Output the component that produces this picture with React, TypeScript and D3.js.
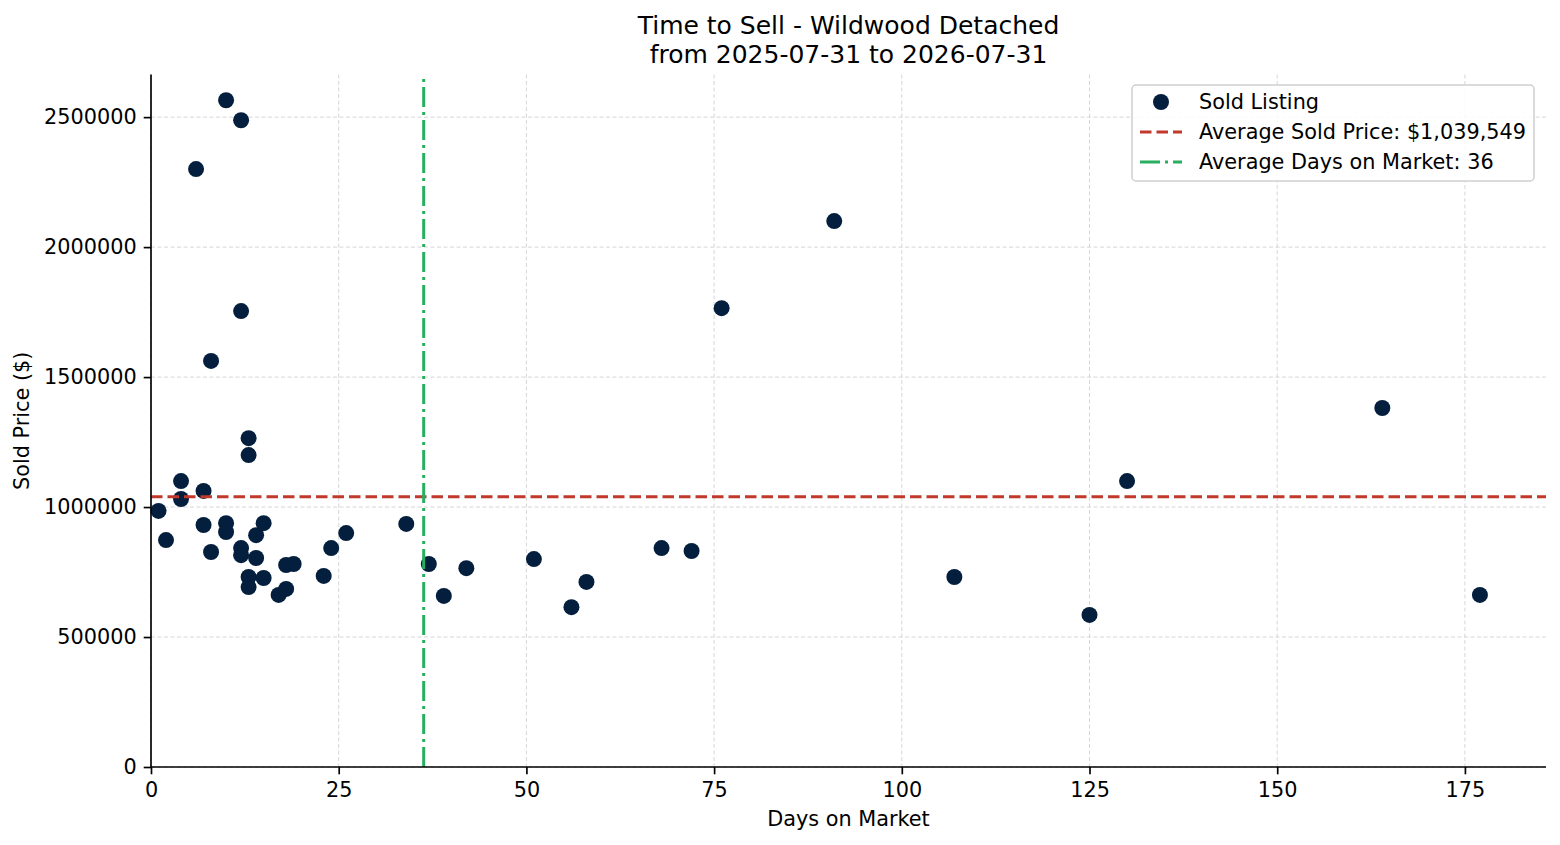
import React, { useEffect, useRef } from "react";
import * as d3 from "d3";

// sold listings: days on market / sold price
const daysOnMarket = [
  1, 2, 4, 4, 6, 7, 7, 8, 8, 10, 10, 10, 12, 12, 12, 12, 13, 13, 13, 13, 14, 14, 15, 15,
  17, 18, 18, 19, 23, 24, 26, 34, 37, 39, 42, 51, 56, 58, 68, 72, 76, 91, 107, 125, 130,
  164, 177,
];
const soldPrices = [
  985000, 873000, 1100000, 1031000, 2300000, 1062000, 931000, 1562000, 827000, 2565000,
  938000, 904000, 2488000, 1754000, 842000, 815000, 1265000, 1200000, 731000, 692000,
  892000, 804000, 938000, 727000, 662000, 777000, 685000, 781000, 735000, 842000, 900000,
  935000, 781000, 658000, 765000, 800000, 615000, 712000, 842000, 831000, 1765000,
  2100000, 731000, 585000, 1100000, 1381000, 662000,
];
const avgPrice = 1039549;
const avgDays = 36.32;

const xTicks = [0, 25, 50, 75, 100, 125, 150, 175];
const yTicks = [0, 500000, 1000000, 1500000, 2000000, 2500000];

const titleLines = ["Time to Sell - Wildwood Detached", "from 2025-07-31 to 2026-07-31"];

const W = 1560;
const H = 845;
const FONT = "'DejaVu Sans', sans-serif";

const ScatterChart: React.FC = () => {
  const ref = useRef<SVGSVGElement | null>(null);

  useEffect(() => {
    const margin = { top: 74.5, right: 14, bottom: 78, left: 151 };
    const w = W - margin.left - margin.right;
    const h = H - margin.top - margin.bottom;

    const root = d3.select(ref.current);
    root.selectAll("*").remove();
    root.attr("width", W).attr("height", H).style("display", "block");
    root.append("rect").attr("width", W).attr("height", H).attr("fill", "#fff");

    const svg = root.append("g").attr("transform", `translate(${margin.left},${margin.top})`);

    // matplotlib-style 5% margins, lower bound pinned at 0
    const xMax = d3.max(daysOnMarket)!;
    const xMin = d3.min(daysOnMarket)!;
    const yMax = d3.max(soldPrices)!;
    const yMin = d3.min(soldPrices)!;
    const x = d3.scaleLinear().domain([0, xMax + 0.05 * (xMax - xMin)]).range([0, w]);
    const y = d3.scaleLinear().domain([0, yMax + 0.05 * (yMax - yMin)]).range([h, 0]);

    // grid
    svg
      .append("g")
      .selectAll("line")
      .data(xTicks)
      .enter()
      .append("line")
      .attr("x1", (d) => x(d))
      .attr("x2", (d) => x(d))
      .attr("y1", 0)
      .attr("y2", h)
      .attr("stroke", "#d6d6d6")
      .attr("stroke-width", 1)
      .attr("stroke-dasharray", "4,2.5");
    svg
      .append("g")
      .selectAll("line")
      .data(yTicks)
      .enter()
      .append("line")
      .attr("x1", 0)
      .attr("x2", w)
      .attr("y1", (d) => y(d))
      .attr("y2", (d) => y(d))
      .attr("stroke", "#d6d6d6")
      .attr("stroke-width", 1)
      .attr("stroke-dasharray", "4,2.5");

    // points
    svg
      .append("g")
      .selectAll("circle")
      .data(daysOnMarket)
      .enter()
      .append("circle")
      .attr("cx", (d) => x(d))
      .attr("cy", (_, i) => y(soldPrices[i]))
      .attr("r", 8)
      .attr("fill", "#041e3d");

    // average lines
    svg
      .append("line")
      .attr("x1", 0)
      .attr("x2", w)
      .attr("y1", y(avgPrice))
      .attr("y2", y(avgPrice))
      .attr("stroke", "#c0392b")
      .attr("stroke-width", 3)
      .attr("stroke-dasharray", "11.5,5");
    svg
      .append("line")
      .attr("x1", x(avgDays))
      .attr("x2", x(avgDays))
      .attr("y1", h)
      .attr("y2", 0)
      .attr("stroke", "#27ae60")
      .attr("stroke-width", 3)
      .attr("stroke-dasharray", "20,5,3,5");

    // axes
    const xAxis = svg
      .append("g")
      .attr("transform", `translate(0,${h})`)
      .call(d3.axisBottom(x).tickValues(xTicks).tickSize(7.3).tickPadding(8).tickFormat((d) => String(d)));
    const yAxis = svg
      .append("g")
      .call(d3.axisLeft(y).tickValues(yTicks).tickSize(7.3).tickPadding(7).tickFormat((d) => String(d)));

    [xAxis, yAxis].forEach((a) => {
      a.select(".domain").attr("stroke", "#000").attr("stroke-width", 1.67);
      a.selectAll(".tick line").attr("stroke", "#000").attr("stroke-width", 1.67);
      a.selectAll(".tick text")
        .attr("fill", "#000")
        .style("font-family", FONT)
        .style("font-size", "20.8px");
    });
    // keep spines at the exact axes extents
    xAxis.select(".domain").attr("d", `M0,0H${w}`);
    yAxis.select(".domain").attr("d", `M0,${h}V0`);

    // axis labels
    root
      .append("text")
      .attr("x", margin.left + w / 2)
      .attr("y", 826)
      .attr("text-anchor", "middle")
      .style("font-family", FONT)
      .style("font-size", "20.8px")
      .text("Days on Market");
    root
      .append("text")
      .attr("transform", `translate(29,${margin.top + h / 2}) rotate(-90)`)
      .attr("text-anchor", "middle")
      .style("font-family", FONT)
      .style("font-size", "20.8px")
      .text("Sold Price ($)");

    // title
    root
      .append("g")
      .selectAll("text")
      .data(titleLines)
      .enter()
      .append("text")
      .attr("x", margin.left + w / 2)
      .attr("y", (_, i) => 34 + i * 29)
      .attr("text-anchor", "middle")
      .style("font-family", FONT)
      .style("font-size", "25px")
      .text((d) => d);

    // legend
    const lg = root.append("g").attr("transform", "translate(1132,85)");
    lg.append("rect")
      .attr("width", 402)
      .attr("height", 96)
      .attr("rx", 4)
      .attr("fill", "rgba(255,255,255,0.85)")
      .attr("stroke", "#cfcfcf")
      .attr("stroke-width", 1.5);
    const entries = [
      { kind: "dot", label: "Sold Listing" },
      { kind: "dash", label: `Average Sold Price: $${d3.format(",.0f")(avgPrice)}` },
      { kind: "dashdot", label: `Average Days on Market: ${Math.round(avgDays)}` },
    ];
    entries.forEach((e, i) => {
      const cy = 17 + i * 30;
      if (e.kind === "dot") {
        lg.append("circle").attr("cx", 29).attr("cy", cy).attr("r", 8).attr("fill", "#041e3d");
      } else {
        lg.append("line")
          .attr("x1", 8)
          .attr("x2", 50)
          .attr("y1", cy)
          .attr("y2", cy)
          .attr("stroke", e.kind === "dash" ? "#c0392b" : "#27ae60")
          .attr("stroke-width", 3)
          .attr("stroke-dasharray", e.kind === "dash" ? "11.5,5" : "20,5,3,5");
      }
      lg.append("text")
        .attr("x", 67)
        .attr("y", cy)
        .attr("dy", "0.35em")
        .style("font-family", FONT)
        .style("font-size", "20.8px")
        .text(e.label);
    });
  }, []);

  return <svg ref={ref}></svg>;
};

export default function App() {
  return (
    <div style={{ margin: -8 }}>
      <ScatterChart />
    </div>
  );
}
